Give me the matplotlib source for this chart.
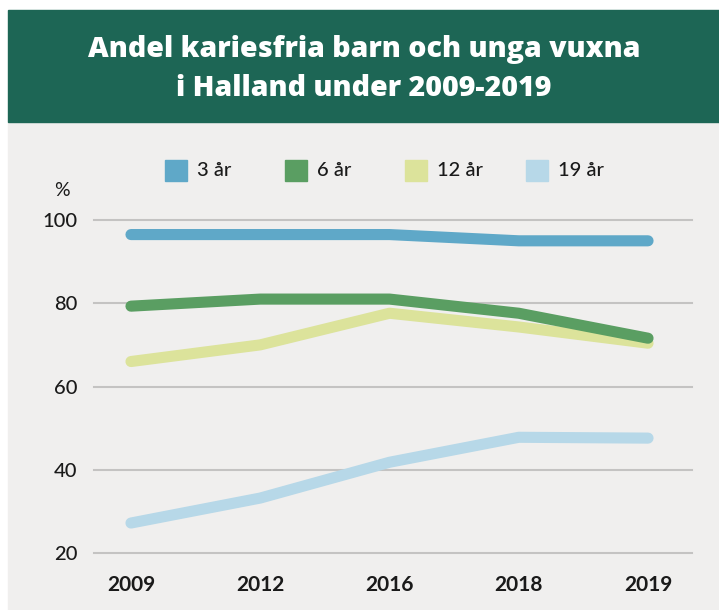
import matplotlib
matplotlib.use("Agg")
import matplotlib.pyplot as plt
from matplotlib.patches import Rectangle

# --- data ---
years = ["2009", "2012", "2016", "2018", "2019"]
age_3 = [96.5, 96.5, 96.5, 95.0, 95.0]
age_6 = [79.3, 81.0, 81.0, 77.6, 71.6]
age_12 = [66.0, 70.0, 77.6, 74.3, 70.4]
age_19 = [27.2, 33.2, 41.8, 47.8, 47.6]
y_ticks = [20, 40, 60, 80, 100]

series = [("3 år", age_3, "#5fa8c8"),
          ("6 år", age_6, "#5a9e62"),
          ("12 år", age_12, "#dce39b"),
          ("19 år", age_19, "#b7d8e8")]

W, H = 719, 610
plt.rcParams['font.family'] = ['Lato', 'DejaVu Sans']
fig = plt.figure(figsize=(W / 100, H / 100), dpi=100)
fig.patch.set_facecolor("white")

# background panels (pixel -> figure fraction)
def fx(px): return px / W
def fy(py): return 1 - py / H

fig.patches.append(Rectangle((fx(8), fy(610)), fx(719 - 8), (610 - 122) / H,
                             transform=fig.transFigure, color="#f0efee", zorder=-10))
fig.patches.append(Rectangle((fx(8), fy(122)), fx(719 - 8), (122 - 10) / H,
                             transform=fig.transFigure, color="#1d6655", zorder=-10))

fig.text(fx(364), fy(50), "Andel kariesfria barn och unga vuxna", color="white",
         fontsize=20.5, fontweight="heavy", family="Open Sans", ha="center", va="center")
fig.text(fx(364), fy(88), "i Halland under 2009-2019", color="white",
         fontsize=20.5, fontweight="heavy", family="Open Sans", ha="center", va="center")

# axes: 100 at y=220, 20 at y=553; gridlines from x=94 to x=692
ax = fig.add_axes([fx(94), fy(553), fx(692 - 94), (553 - 220) / H])
ax.set_facecolor("none")
x = list(range(len(years)))
ax.set_xlim(-0.286, 4.34)
ax.set_ylim(20, 100)

for t in y_ticks:
    ax.axhline(t, color="#c4c3c2", lw=1.5, zorder=1, clip_on=False)

for name, vals, col in reversed(series):
    ax.plot(x, vals, color=col, lw=8, solid_capstyle="round",
            solid_joinstyle="round", zorder=3, clip_on=False)

for s in ax.spines.values():
    s.set_visible(False)
ax.set_xticks(x)
ax.set_xticklabels(years, fontsize=15, fontweight="bold", color="#1a1a1a")
ax.set_yticks(y_ticks)
ax.set_yticklabels([str(t) for t in y_ticks], fontsize=14.5, fontweight="medium",
                   color="#1a1a1a")
ax.tick_params(length=0)
ax.tick_params(axis="x", pad=16)
ax.tick_params(axis="y", pad=12)

fig.text(fx(62), fy(190), "%", fontsize=14, color="#1a1a1a", ha="center", va="center")

# legend
leg_x = [165, 285, 405, 526]
for (name, vals, col), lx in zip(series, leg_x):
    fig.patches.append(Rectangle((fx(lx), fy(181)), fx(22), 21 / H,
                                 transform=fig.transFigure, color=col, zorder=2))
    fig.text(fx(lx + 32), fy(170), name, fontsize=14.5, fontweight="medium",
             color="#1a1a1a", ha="left", va="center")

fig.savefig("out.png", dpi=100, facecolor=fig.get_facecolor())
